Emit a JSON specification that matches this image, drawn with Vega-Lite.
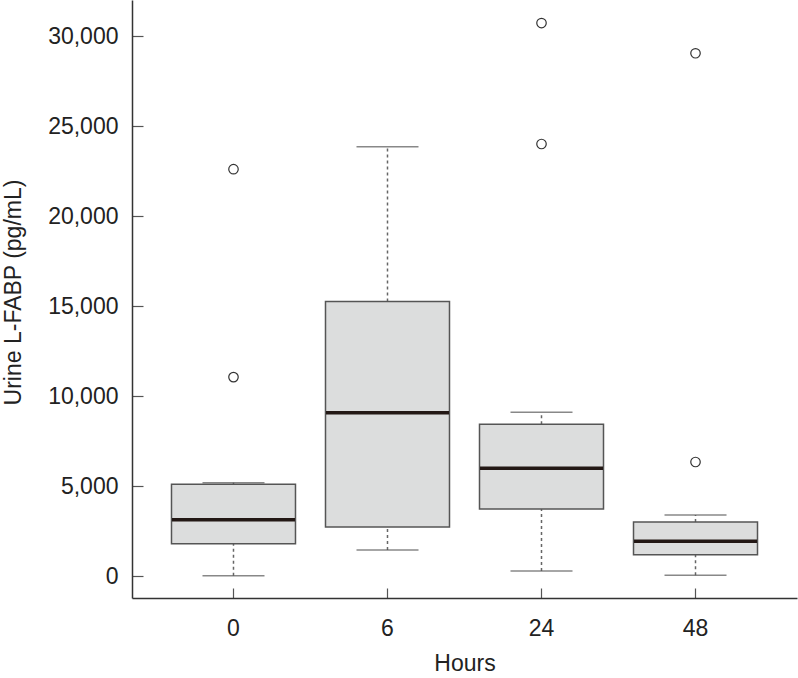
{
  "$schema": "https://vega.github.io/schema/vega-lite/v6.json",
  "width": 665,
  "height": 598,
  "autosize": "none",
  "padding": {"left": 132, "top": 0, "right": 1, "bottom": 80},
  "background": "white",
  "config": {
    "view": {"stroke": null},
    "font": "Liberation Sans",
    "axis": {
      "labelFont": "Liberation Sans",
      "titleFont": "Liberation Sans",
      "labelFontSize": 23,
      "titleFontSize": 23,
      "titleFontWeight": "normal",
      "labelColor": "#222",
      "titleColor": "#222",
      "domainColor": "#333",
      "domainWidth": 1.5,
      "tickColor": "#555",
      "tickWidth": 1.2,
      "grid": false
    }
  },
  "datasets": {
    "stats": [
      {"hour": "0", "lower": 20, "q1": 1796, "median": 3130, "q3": 5094, "upper": 5185},
      {"hour": "6", "lower": 1444, "q1": 2722, "median": 9074, "q3": 15250, "upper": 23852},
      {"hour": "24", "lower": 278, "q1": 3722, "median": 5981, "q3": 8426, "upper": 9093},
      {"hour": "48", "lower": 37, "q1": 1185, "median": 1926, "q3": 3000, "upper": 3389}
    ],
    "outliers": [
      {"hour": "0", "value": 11050},
      {"hour": "0", "value": 22600},
      {"hour": "24", "value": 24000},
      {"hour": "24", "value": 30720},
      {"hour": "48", "value": 6333},
      {"hour": "48", "value": 29040}
    ]
  },
  "encoding": {
    "x": {
      "field": "hour",
      "type": "nominal",
      "sort": ["0", "6", "24", "48"],
      "scale": {"paddingInner": 0, "paddingOuter": 0.159},
      "axis": {
        "title": "Hours",
        "labelAngle": 0,
        "tickSize": -10,
        "labelPadding": 29,
        "titleY": 54,
        "titleBaseline": "top"
      }
    }
  },
  "layer": [
    {
      "data": {"name": "stats"},
      "mark": {"type": "rule", "strokeDash": [3, 3], "color": "#666", "strokeWidth": 1.5},
      "encoding": {
        "y": {
          "field": "lower",
          "type": "quantitative",
          "scale": {"domain": [-1222, 32000], "nice": false, "zero": false},
          "axis": {
            "title": "Urine L-FABP (pg/mL)",
            "values": [0, 5000, 10000, 15000, 20000, 25000, 30000],
            "format": ",d",
            "tickSize": -11,
            "labelPadding": 25,
            "titleX": -107,
            "titleY": 292
          }
        },
        "y2": {"field": "q1"}
      }
    },
    {
      "data": {"name": "stats"},
      "mark": {"type": "rule", "strokeDash": [3, 3], "color": "#666", "strokeWidth": 1.5},
      "encoding": {
        "y": {"field": "q3", "type": "quantitative"},
        "y2": {"field": "upper"}
      }
    },
    {
      "data": {"name": "stats"},
      "mark": {"type": "bar", "size": 124, "fill": "#dcdddd", "stroke": "#555", "strokeWidth": 1.5},
      "encoding": {
        "y": {"field": "q1", "type": "quantitative"},
        "y2": {"field": "q3"}
      }
    },
    {
      "data": {"name": "stats"},
      "mark": {"type": "tick", "size": 62, "thickness": 1.5, "color": "#555"},
      "encoding": {
        "y": {"field": "lower", "type": "quantitative"}
      }
    },
    {
      "data": {"name": "stats"},
      "mark": {"type": "tick", "size": 62, "thickness": 1.5, "color": "#555"},
      "encoding": {
        "y": {"field": "upper", "type": "quantitative"}
      }
    },
    {
      "data": {"name": "stats"},
      "mark": {"type": "tick", "size": 123, "thickness": 3.5, "color": "#231815", "opacity": 1},
      "encoding": {
        "y": {"field": "median", "type": "quantitative"}
      }
    },
    {
      "data": {"name": "outliers"},
      "mark": {"type": "point", "shape": "circle", "filled": false, "size": 90, "color": "#333", "strokeWidth": 1.2, "opacity": 1},
      "encoding": {
        "y": {"field": "value", "type": "quantitative"}
      }
    }
  ]
}
